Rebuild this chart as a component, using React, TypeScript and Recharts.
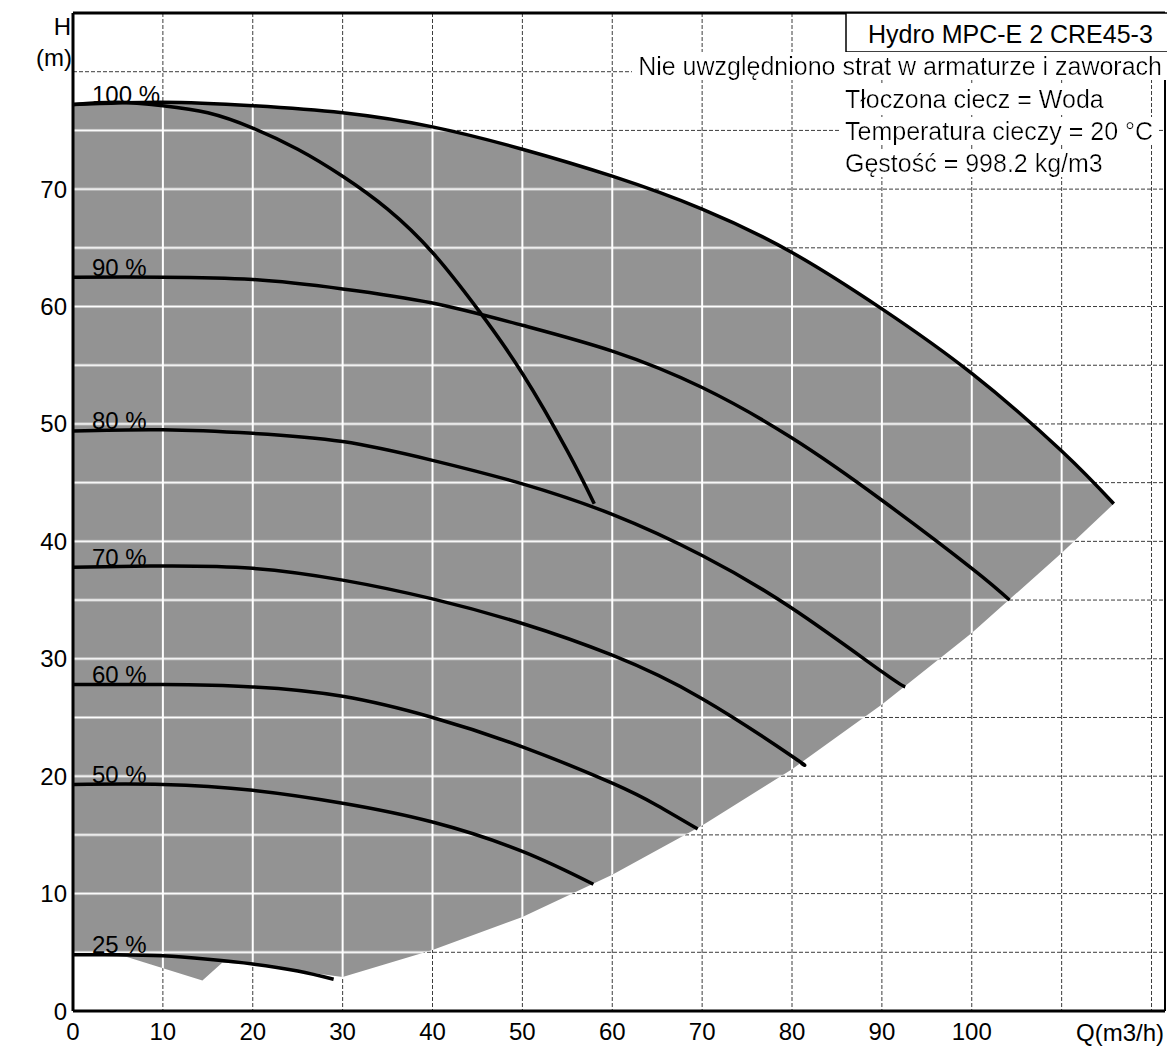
import { ComposedChart, Area, Line, XAxis, YAxis, CartesianGrid, ReferenceLine, LabelList } from 'recharts';

const FONT = '"Liberation Sans", Arial, sans-serif';

const CHART_W = 1167;
const CHART_H = 1046;
const MARGIN = { top: 13, right: 2, left: 0, bottom: 0 };
const Y_AXIS_W = 73;
const X_AXIS_H = 35;
const X_MAX = 121.5;
const Y_MAX = 85;

const xTicks = [0, 10, 20, 30, 40, 50, 60, 70, 80, 90, 100, 110, 120];
const yTicks = [0, 5, 10, 15, 20, 25, 30, 35, 40, 45, 50, 55, 60, 65, 70, 75, 80];

// Q (m3/h) / H (m), one pair per speed curve
const flow100 = [0, 10, 20, 30, 40, 50, 60, 70, 80, 90, 100, 110, 115.8];
const head100 = [77.2, 77.4, 77.1, 76.5, 75.3, 73.4, 71.1, 68.3, 64.6, 59.8, 54.3, 47.7, 43.2];
const flow90 = [0, 10, 20, 30, 40, 50, 60, 70, 80, 90, 100, 104.2];
const head90 = [62.5, 62.5, 62.3, 61.5, 60.3, 58.4, 56.2, 53.1, 48.8, 43.5, 37.7, 35.0];
const flow80 = [0, 10, 20, 30, 40, 50, 60, 70, 80, 90, 92.6];
const head80 = [49.4, 49.5, 49.2, 48.5, 46.9, 44.9, 42.3, 38.8, 34.3, 28.9, 27.6];
const flow70 = [0, 10, 20, 30, 40, 50, 60, 70, 80, 81];
const head70 = [37.8, 37.9, 37.7, 36.7, 35.1, 33.0, 30.3, 26.6, 21.7, 21.1];
const flow60 = [0, 10, 20, 30, 40, 50, 60, 65, 69.5];
const head60 = [27.8, 27.8, 27.6, 26.8, 25.0, 22.5, 19.4, 17.5, 15.5];
const flow50 = [0, 10, 20, 30, 40, 50, 57.9];
const head50 = [19.3, 19.3, 18.8, 17.7, 16.1, 13.6, 10.8];
const flow25 = [0, 5, 10, 15, 20, 25, 29];
const head25 = [4.8, 4.8, 4.7, 4.4, 4.0, 3.4, 2.7];
// one pump running alone at 100 %
const flowOne = [0, 5, 10, 15, 20, 25, 30, 35, 40, 45, 50, 55, 58];
const headOne = [77.2, 77.4, 77.1, 76.5, 75.2, 73.4, 71.1, 68.3, 64.6, 59.8, 54.3, 47.7, 43.2];

// shaded operating range
const areaFlow = [0, 6, 14.4, 16.6, 20, 25, 30, 40, 50, 60, 70, 80, 90, 100, 110, 115.8];
const areaTop = [77.2, 77.3, 77.3, 77.2, 77.1, 76.8, 76.5, 75.3, 73.4, 71.1, 68.3, 64.6, 59.8, 54.3, 47.7, 43.2];
const areaBottom = [4.8, 4.6, 2.6, 4.1, 4.0, 3.4, 2.9, 5.2, 8.0, 11.6, 15.8, 20.6, 26.1, 32.2, 39.0, 43.2];

const toPoints = (q: number[], h: number[]) => q.map((x, i) => ({ q: x, h: h[i] }));

const curves = [
  { name: '100 %', data: toPoints(flow100, head100) },
  { name: '90 %', data: toPoints(flow90, head90) },
  { name: '80 %', data: toPoints(flow80, head80) },
  { name: '70 %', data: toPoints(flow70, head70) },
  { name: '60 %', data: toPoints(flow60, head60) },
  { name: '50 %', data: toPoints(flow50, head50) },
  { name: '25 %', data: toPoints(flow25, head25) },
];
const onePump = toPoints(flowOne, headOne);
const areaRows = areaFlow.map((q, i) => ({ q, range: [areaBottom[i], areaTop[i]] }));

// plot box, used to line the white grid texture up with the axes
const PLOT_LEFT = MARGIN.left + Y_AXIS_W;
const PLOT_BOTTOM = CHART_H - MARGIN.bottom - X_AXIS_H;
const TILE_W = ((CHART_W - MARGIN.right - PLOT_LEFT) * 10) / X_MAX;
const TILE_H = ((PLOT_BOTTOM - MARGIN.top) * 5) / Y_MAX;

const pctLabel = (text: string) => (props: any) => {
  if (props.index !== 0) return null;
  const x = Number(props.x ?? props.viewBox?.x);
  const y = Number(props.y ?? props.viewBox?.y);
  return (
    <text x={x + 19} y={y - 1.5} fontSize={24} fontFamily={FONT} fill="#000">
      {text}
    </text>
  );
};

const tickStyle = { fontSize: 24, fill: '#000', fontFamily: FONT };

export default function App() {
  return (
    <div style={{ position: 'absolute', left: 0, top: 0, width: CHART_W, height: CHART_H, background: '#fff' }}>
      <svg width={0} height={0} style={{ position: 'absolute' }}>
        <defs>
          <pattern
            id="shade"
            patternUnits="userSpaceOnUse"
            x={PLOT_LEFT - TILE_W / 2}
            y={PLOT_BOTTOM - TILE_H / 2}
            width={TILE_W}
            height={TILE_H}
          >
            <rect x={0} y={0} width={TILE_W} height={TILE_H} fill="#939393" />
            <line x1={TILE_W / 2} y1={0} x2={TILE_W / 2} y2={TILE_H} stroke="#fff" strokeWidth={2} />
            <line x1={0} y1={TILE_H / 2} x2={TILE_W} y2={TILE_H / 2} stroke="#fff" strokeWidth={2} />
          </pattern>
          <filter id="txtbg" x="-0.01" y="0" width="1.02" height="1">
            <feFlood floodColor="#fff" />
            <feComposite in="SourceGraphic" operator="over" />
          </filter>
        </defs>
      </svg>

      <ComposedChart width={CHART_W} height={CHART_H} data={areaRows} margin={MARGIN}>
        <CartesianGrid stroke="#3c3c3c" strokeDasharray="4 2" strokeWidth={1} />
        <XAxis
          dataKey="q"
          type="number"
          domain={[0, X_MAX]}
          ticks={xTicks}
          interval={0}
          allowDataOverflow
          height={X_AXIS_H}
          tickLine={false}
          tickSize={0}
          tickMargin={12}
          tickFormatter={(v: number) => (v <= 100 ? String(v) : '')}
          axisLine={{ stroke: '#000', strokeWidth: 3 }}
          tick={tickStyle}
        />
        <YAxis
          type="number"
          domain={[0, Y_MAX]}
          ticks={yTicks}
          interval={0}
          allowDataOverflow
          width={Y_AXIS_W}
          tickLine={false}
          tickSize={0}
          tickMargin={6}
          tickFormatter={(v: number) => (v % 10 === 0 && v <= 70 ? String(v) : '')}
          axisLine={{ stroke: '#000', strokeWidth: 3 }}
          tick={tickStyle}
        />
        <Area
          dataKey="range"
          type="linear"
          stroke="none"
          fill="url(#shade)"
          fillOpacity={1}
          isAnimationActive={false}
        />
        <ReferenceLine y={Y_MAX} stroke="#000" strokeWidth={3} />
        <ReferenceLine x={X_MAX} stroke="#000" strokeWidth={2} />
        <Line
          data={onePump}
          dataKey="h"
          type="natural"
          stroke="#000"
          strokeWidth={3.5}
          dot={false}
          isAnimationActive={false}
        />
        {curves.map((c) => (
          <Line
            key={c.name}
            data={c.data}
            dataKey="h"
            type="natural"
            stroke="#000"
            strokeWidth={3.5}
            dot={false}
            isAnimationActive={false}
          >
            <LabelList dataKey="h" content={pctLabel(c.name)} />
          </Line>
        ))}
      </ComposedChart>

      <svg
        width={CHART_W}
        height={CHART_H}
        style={{ position: 'absolute', left: 0, top: 0, pointerEvents: 'none' }}
        fontFamily={FONT}
        fill="#000"
      >
        <text x={71} y={35} fontSize={24} textAnchor="end">H</text>
        <text x={72} y={66} fontSize={24} textAnchor="end">(m)</text>
        <text x={1164} y={1041} fontSize={24} textAnchor="end">Q(m3/h)</text>

        <rect x={846} y={13} width={330} height={39} fill="#fff" stroke="#000" strokeWidth={1.5} />
        <text x={868} y={43} fontSize={25}>Hydro MPC-E 2 CRE45-3</text>
        <text x={1162} y={75} fontSize={25} textAnchor="end" filter="url(#txtbg)">
          Nie uwzględniono strat w armaturze i zaworach
        </text>
        <text x={845} y={108} fontSize={25} filter="url(#txtbg)">Tłoczona ciecz = Woda</text>
        <text x={845} y={140} fontSize={25} filter="url(#txtbg)">Temperatura cieczy = 20 °C</text>
        <text x={845} y={172} fontSize={25} filter="url(#txtbg)">Gęstość = 998.2 kg/m3</text>
      </svg>
    </div>
  );
}
